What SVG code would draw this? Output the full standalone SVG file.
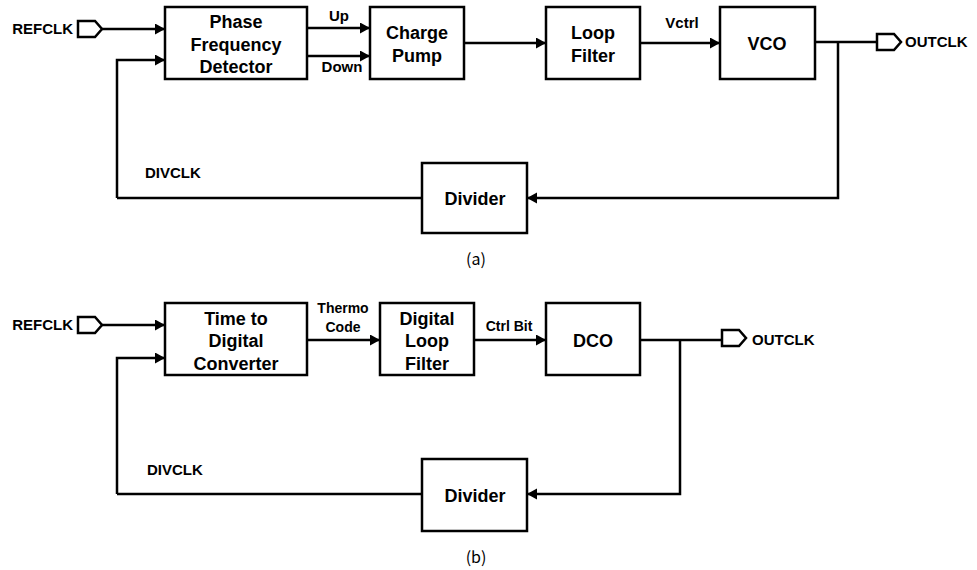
<svg xmlns="http://www.w3.org/2000/svg" width="977" height="570" viewBox="0 0 977 570">
  <style>
    .box { fill: #fff; stroke: #000; stroke-width: 2.5; }
    .port { fill: #fff; stroke: #000; stroke-width: 2.5; stroke-linejoin: miter; }
    .wire { fill: none; stroke: #000; stroke-width: 2.5; }
    .arr { marker-end: url(#head); }
    .t { font-family: "Liberation Sans", Arial, sans-serif; font-weight: bold; fill: #000; }
    .blk { font-size: 18px; text-anchor: middle; }
    .sig { font-size: 15px; }
    .sm { font-size: 14px; }
    .mid { text-anchor: middle; }
    .end { text-anchor: end; }
    .cap { font-family: "Noto Sans CJK JP", "DejaVu Sans", sans-serif; font-size: 16px; text-anchor: middle; fill: #000; }
  </style>
  <defs>
    <marker id="head" markerUnits="userSpaceOnUse" markerWidth="12" markerHeight="12" refX="10" refY="5.5" orient="auto">
      <path d="M0,0 L10,5.5 L0,11 Z" fill="#000"/>
    </marker>
  </defs>

  <rect width="977" height="570" fill="#fff"/>

  <!-- connectors, analog PLL (a) -->
  <g id="connectors-a">
    <path class="wire arr" d="M102,29 H165"/>
    <path class="wire arr" d="M117,198 V60 H165"/>
    <path class="wire arr" d="M307,28 H370"/>
    <path class="wire arr" d="M307,56 H370"/>
    <path class="wire arr" d="M464,43 H546"/>
    <path class="wire arr" d="M640,43 H720"/>
    <path class="wire" d="M815,42 H877"/>
    <path class="wire arr" d="M838,42 V198 H527"/>
    <path class="wire" d="M422,198 H117"/>
  </g>

  <!-- connectors, digital PLL (b) -->
  <g id="connectors-b">
    <path class="wire arr" d="M102,325 H165"/>
    <path class="wire arr" d="M117,494 V358 H165"/>
    <path class="wire arr" d="M307,340 H380"/>
    <path class="wire arr" d="M474,340 H546"/>
    <path class="wire" d="M640,340 H722"/>
    <path class="wire arr" d="M680,340 V494 H527"/>
    <path class="wire" d="M422,494 H117"/>
  </g>

  <!-- (a) analog PLL -->
  <g id="refclk-a">
    <path class="port" d="M78,21 H95 L102,29 L95,37 H78 Z"/>
    <text class="t sig end" x="73" y="34">REFCLK</text>
  </g>
  <g id="pfd">
    <rect class="box" x="165" y="7" width="142" height="72"/>
    <text class="t blk" x="236" y="28">Phase</text>
    <text class="t blk" x="236" y="51">Frequency</text>
    <text class="t blk" x="236" y="73">Detector</text>
  </g>
  <g id="label-up"><text class="t sig mid" x="339" y="21">Up</text></g>
  <g id="label-down"><text class="t sig mid" x="342" y="72">Down</text></g>
  <g id="charge-pump">
    <rect class="box" x="370" y="7" width="94" height="72"/>
    <text class="t blk" x="417" y="39">Charge</text>
    <text class="t blk" x="417" y="62">Pump</text>
  </g>
  <g id="loop-filter">
    <rect class="box" x="546" y="7" width="94" height="72"/>
    <text class="t blk" x="593" y="39">Loop</text>
    <text class="t blk" x="593" y="62">Filter</text>
  </g>
  <g id="label-vctrl"><text class="t sig mid" x="682" y="28">Vctrl</text></g>
  <g id="vco">
    <rect class="box" x="720" y="7" width="95" height="72"/>
    <text class="t blk" x="767" y="50">VCO</text>
  </g>
  <g id="outclk-a">
    <path class="port" d="M877,34 H894 L901,42 L894,50 H877 Z"/>
    <text class="t sig" x="905" y="47">OUTCLK</text>
  </g>
  <g id="label-divclk-a"><text class="t sig" x="145" y="178">DIVCLK</text></g>
  <g id="divider-a">
    <rect class="box" x="422" y="163" width="105" height="70"/>
    <text class="t blk" x="475" y="205">Divider</text>
  </g>
  <text class="cap" x="476" y="265">(a)</text>

  <!-- (b) digital PLL -->
  <g id="refclk-b">
    <path class="port" d="M78,317 H95 L102,325 L95,333 H78 Z"/>
    <text class="t sig end" x="73" y="330">REFCLK</text>
  </g>
  <g id="tdc">
    <rect class="box" x="165" y="303" width="142" height="72"/>
    <text class="t blk" x="236" y="325">Time to</text>
    <text class="t blk" x="236" y="347">Digital</text>
    <text class="t blk" x="236" y="370">Converter</text>
  </g>
  <g id="label-thermo">
    <text class="t sm mid" x="343" y="313">Thermo</text>
    <text class="t sm mid" x="343" y="332">Code</text>
  </g>
  <g id="digital-loop-filter">
    <rect class="box" x="380" y="303" width="94" height="72"/>
    <text class="t blk" x="427" y="325">Digital</text>
    <text class="t blk" x="427" y="347">Loop</text>
    <text class="t blk" x="427" y="370">Filter</text>
  </g>
  <g id="label-ctrlbit"><text class="t sm mid" x="509" y="331">Ctrl Bit</text></g>
  <g id="dco">
    <rect class="box" x="546" y="303" width="94" height="72"/>
    <text class="t blk" x="593" y="347">DCO</text>
  </g>
  <g id="outclk-b">
    <path class="port" d="M722,330 H739 L746,338 L739,346 H722 Z"/>
    <text class="t sig" x="752" y="345">OUTCLK</text>
  </g>
  <g id="label-divclk-b"><text class="t sig" x="147" y="475">DIVCLK</text></g>
  <g id="divider-b">
    <rect class="box" x="422" y="459" width="105" height="72"/>
    <text class="t blk" x="475" y="502">Divider</text>
  </g>
  <text class="cap" x="476" y="563">(b)</text>
</svg>
